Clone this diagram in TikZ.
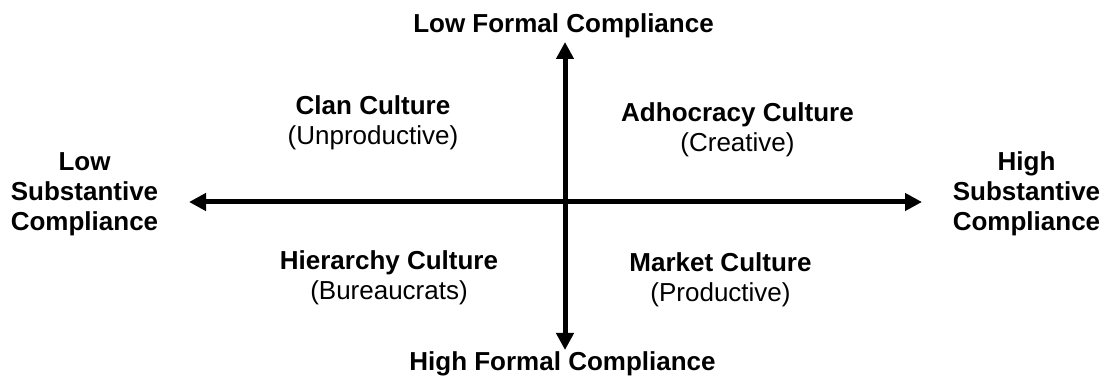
\documentclass[tikz,border=0pt]{standalone}
\usepackage{fontspec}
\setmainfont{Liberation Sans}
\usetikzlibrary{arrows.meta}
\usetikzlibrary{positioning}

\begin{document}
\begin{tikzpicture}[
	x=0.75pt, y=-0.75pt,
  > = {Triangle[length=12.75pt,width=12.75pt]},
  axis/.style = {<->, line width=3.75pt},
  axislabel/.style = {font=\bfseries\fontsize{19.5}{22.5}\selectfont, align=center, inner sep=0pt},
  quadrant/.style = {font=\fontsize{19.5}{22.5}\selectfont, align=center, inner sep=0pt}
  ]
	\useasboundingbox (0,0) rectangle (1106,377);

	\coordinate (@w) at (189,202);
	\coordinate (@e) at (922,202);
	\coordinate (@n) at (565,42);
	\coordinate (@s) at (565,350);

	\draw[axis] (@w) -- (@e);
	\draw[axis] (@n) -- (@s);

	% axis ends
	\node[axislabel,anchor=base] (lowformal) at (563.5,33) {Low Formal Compliance};
	\node[axislabel,anchor=base] (highformal) at (562.5,370) {High Formal Compliance};
	\node[axislabel] (lowsubst) at (84.5,194.5) {Low\\Substantive\\Compliance};
	\node[axislabel] (highsubst) at (1026.5,193.5) {High\\Substantive\\Compliance};

	% the four cultures
	\node[quadrant] (clan) at (373,123.25) {\textbf{Clan Culture}\\(Unproductive)};
	\node[quadrant] (adhocracy) at (737.5,130.25) {\textbf{Adhocracy Culture}\\(Creative)};
	\node[quadrant] (hierarchy) at (389,278.25) {\textbf{Hierarchy Culture}\\(Bureaucrats)};
	\node[quadrant] (market) at (720.5,280.25) {\textbf{Market Culture}\\(Productive)};

\end{tikzpicture}
\end{document}
